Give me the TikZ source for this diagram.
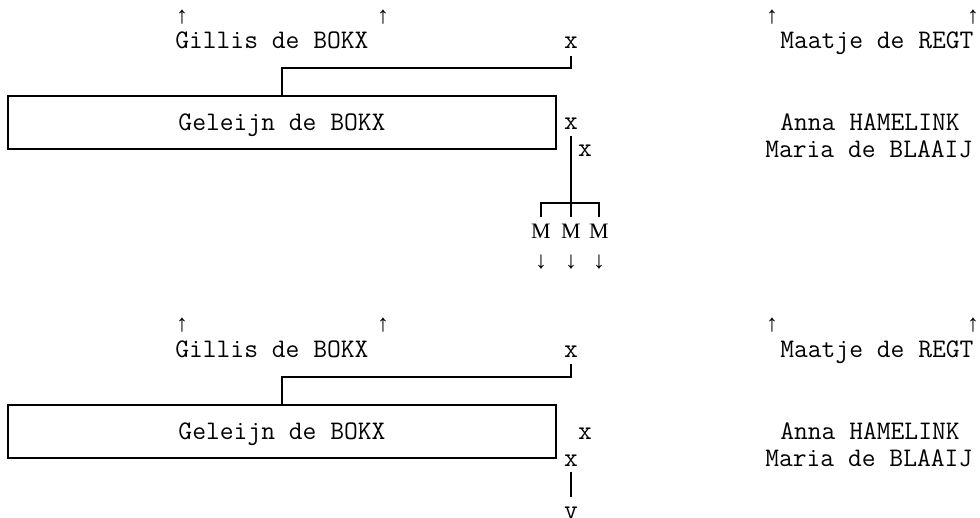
\documentclass[tikz,border=0pt]{standalone}
\usepackage{fontspec}
\newfontfamily\arrowfont{Liberation Mono}
\newfontfamily\kidfont{Liberation Serif}
\usetikzlibrary{positioning}

\tikzset{
	who/.style={font=\ttfamily\fontsize{20.1}{22}\selectfont, inner sep=0pt, anchor=base west},
	xmark/.style={font=\ttfamily\fontsize{20.1}{22}\selectfont, inner sep=0pt, anchor=base},
	pointer/.style={font=\arrowfont\fontsize{18}{20}\selectfont, inner sep=0pt},
	kid/.style={font=\kidfont\fontsize{16.5}{18}\selectfont, inner sep=0pt},
	person/.style={draw, line width=1.5pt, minimum width=411pt, minimum height=39.75pt, inner sep=0pt,
		text depth=0pt, font=\ttfamily\fontsize{20.1}{22}\selectfont},
	link/.style={line width=1.5pt}
}

\begin{document}
\begin{tikzpicture}[x=0.75pt, y=-0.75pt]
	\useasboundingbox (0,0) rectangle (980,517);

	% first family
	\node [pointer] (up1) at (182,17) {↑};
	\node [pointer] (up2) at (383,17) {↑};
	\node [pointer] (up3) at (772,17) {↑};
	\node [pointer] (up4) at (973,17) {↑};
	\node [who] (gillis1) at (175,49) {Gillis de BOKX};
	\node [xmark] (wed1) at (571,49) {x};
	\node [who] (maatje1) at (780,49) {Maatje de REGT};
	\node [person] (geleijn1) at (282,122.5) {Geleijn de BOKX};
	\node [xmark] (wed2) at (571,129) {x};
	\node [who] (anna1) at (780,130) {Anna HAMELINK};
	\node [xmark] (wed3) at (585,156) {x};
	\node [who] (maria1) at (765,157) {Maria de BLAAIJ};
	\coordinate (knee1) at (282,68);
	\coordinate (fork1) at (571,203);
	\node [kid] (kid1) at (541,231) {M};
	\node [kid] (kid2) at (571,231) {M};
	\node [kid] (kid3) at (599,231) {M};
	\node [pointer] (down1) at (541,262) {↓};
	\node [pointer] (down2) at (571,262) {↓};
	\node [pointer] (down3) at (599,262) {↓};
	\draw [link] (geleijn1.north) -- (knee1) -| ([yshift=-5pt]wed1.south);
	\draw [link] ([yshift=-5pt]wed2.south) -- (fork1);
	\draw [link] ([yshift=5pt]kid1.north) |- (fork1) -| ([yshift=5pt]kid3.north);
	\draw [link] (fork1) -- ([yshift=5pt]kid2.north);

	% second family
	\node [pointer] (up5) at (182,325) {↑};
	\node [pointer] (up6) at (383,325) {↑};
	\node [pointer] (up7) at (772,325) {↑};
	\node [pointer] (up8) at (973,325) {↑};
	\node [who] (gillis2) at (175,357) {Gillis de BOKX};
	\node [xmark] (wed4) at (571,357) {x};
	\node [who] (maatje2) at (780,357) {Maatje de REGT};
	\node [person] (geleijn2) at (282,431) {Geleijn de BOKX};
	\node [xmark] (wed5) at (585,439) {x};
	\node [who] (anna2) at (780,439) {Anna HAMELINK};
	\node [xmark] (wed6) at (571,466) {x};
	\node [who] (maria2) at (765,466) {Maria de BLAAIJ};
	\node [xmark] (next2) at (571,518) {v};
	\coordinate (knee2) at (282,377);
	\draw [link] (geleijn2.north) -- (knee2) -| ([yshift=-5pt]wed4.south);
	\draw [link] ([yshift=-4.5pt]wed6.south) -- ([yshift=7pt]next2.north);
\end{tikzpicture}
\end{document}
